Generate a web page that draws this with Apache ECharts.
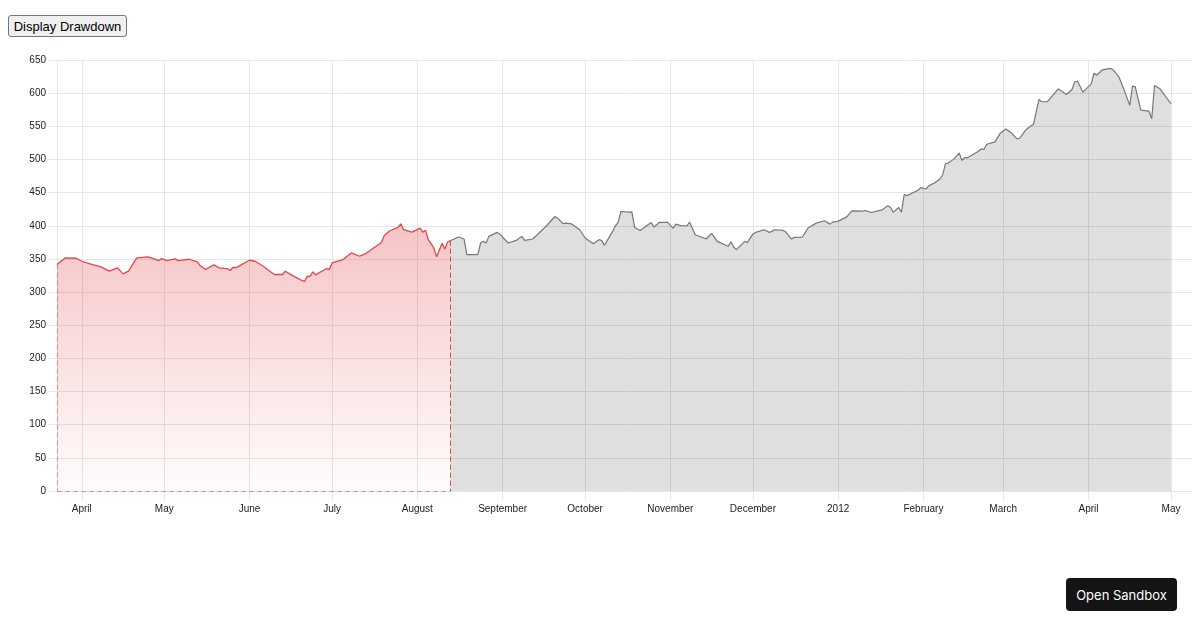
<!DOCTYPE html>
<html>
<head>
<meta charset="utf-8">
<script src="https://cdn.jsdelivr.net/npm/echarts@6/dist/echarts.min.js"></script>
<style>
  html, body { margin: 0; padding: 0; background: #fff; }
  #chart { position: absolute; left: 0; top: 0; width: 1200px; height: 630px; }
  #drawdown-btn {
    position: absolute; left: 8px; top: 15px; width: 119px; height: 22px;
    box-sizing: border-box; padding: 0 2px; white-space: nowrap;
    font: 13px 'Liberation Sans', Arial, sans-serif; color: #000;
    background: #efefef; border: 1px solid #767676; border-radius: 3px;
  }
  #sandbox-btn {
    position: absolute; left: 1066px; top: 578px; width: 111px; height: 33px;
    box-sizing: border-box; padding: 0; white-space: nowrap;
    font: 13px Inter, 'Noto Sans', sans-serif; color: #fff;
    background: #141414; border: none; border-radius: 4px;
  }
</style>
</head>
<body>
<div id="chart"></div>
<button id="drawdown-btn">Display Drawdown</button>
<button id="sandbox-btn">Open Sandbox</button>
<script>
// price series
const dates = [
  '2011-03-23','2011-03-26','2011-03-30','2011-04-01','2011-04-04','2011-04-08','2011-04-11','2011-04-14',
  '2011-04-16','2011-04-18','2011-04-21','2011-04-25','2011-04-27','2011-04-29','2011-04-30','2011-05-02',
  '2011-05-05','2011-05-06','2011-05-10','2011-05-13','2011-05-14','2011-05-16','2011-05-19','2011-05-21',
  '2011-05-24','2011-05-25','2011-05-26','2011-05-27','2011-06-01','2011-06-03','2011-06-06','2011-06-08',
  '2011-06-10','2011-06-13','2011-06-14','2011-06-17','2011-06-20','2011-06-21','2011-06-22','2011-06-23',
  '2011-06-24','2011-06-25','2011-06-29','2011-06-30','2011-07-01','2011-07-05','2011-07-08','2011-07-11',
  '2011-07-13','2011-07-17','2011-07-19','2011-07-20','2011-07-22','2011-07-25','2011-07-26','2011-07-27',
  '2011-07-30','2011-08-02','2011-08-03','2011-08-04','2011-08-05','2011-08-07','2011-08-08','2011-08-10',
  '2011-08-11','2011-08-12','2011-08-13',
  '2011-08-16','2011-08-18','2011-08-19','2011-08-23','2011-08-24','2011-08-25','2011-08-26','2011-08-27',
  '2011-08-30','2011-08-31','2011-09-03','2011-09-06','2011-09-08','2011-09-09','2011-09-12','2011-09-17',
  '2011-09-20','2011-09-21','2011-09-23','2011-09-24','2011-09-26','2011-09-29','2011-10-01','2011-10-04',
  '2011-10-06','2011-10-07','2011-10-08','2011-10-11','2011-10-12','2011-10-13','2011-10-14','2011-10-17',
  '2011-10-18','2011-10-19','2011-10-21','2011-10-25','2011-10-26','2011-10-28','2011-10-31','2011-11-02',
  '2011-11-03','2011-11-05','2011-11-07','2011-11-08','2011-11-10','2011-11-14','2011-11-16','2011-11-18',
  '2011-11-22','2011-11-23','2011-11-24','2011-11-25','2011-11-28','2011-11-29','2011-12-01','2011-12-02',
  '2011-12-05','2011-12-07','2011-12-09','2011-12-12','2011-12-13','2011-12-15','2011-12-16','2011-12-19',
  '2011-12-21','2011-12-22','2011-12-24','2011-12-27','2011-12-29','2011-12-30','2012-01-01','2012-01-04',
  '2012-01-06','2012-01-10','2012-01-11','2012-01-13','2012-01-17','2012-01-19','2012-01-20','2012-01-21',
  '2012-01-23','2012-01-24','2012-01-25','2012-01-26','2012-01-30','2012-01-31','2012-02-02','2012-02-03',
  '2012-02-05','2012-02-07','2012-02-08','2012-02-09','2012-02-10','2012-02-12','2012-02-14','2012-02-15',
  '2012-02-16','2012-02-17','2012-02-21','2012-02-22','2012-02-23','2012-02-24','2012-02-27','2012-02-29',
  '2012-03-02','2012-03-04','2012-03-06','2012-03-07','2012-03-09','2012-03-10','2012-03-12','2012-03-14',
  '2012-03-15','2012-03-17','2012-03-21','2012-03-24','2012-03-26','2012-03-27','2012-03-28','2012-03-30',
  '2012-04-02','2012-04-03','2012-04-04','2012-04-06','2012-04-09','2012-04-10','2012-04-12','2012-04-14',
  '2012-04-16','2012-04-17','2012-04-18','2012-04-20','2012-04-23','2012-04-24','2012-04-25','2012-04-27',
  '2012-05-01'
]
const prices = [
  341.5, 351.5, 351, 346.5, 342.5, 338, 331.5, 336.5,
  327.5, 331.5, 351.5, 353, 350.5, 347.5, 350.5, 347.5,
  350, 347.5, 349.5, 345.5, 340, 334, 341, 336.5,
  335, 332.5, 337.5, 336.5, 348, 346.5, 339, 332.5,
  326.5, 326.5, 331.5, 324, 317.5, 316, 324, 323.5,
  330.5, 326, 335.5, 334, 344, 349, 359, 354,
  357.5, 369, 375, 385.5, 392.5, 397.5, 403, 394,
  390.5, 396.5, 390.5, 393, 379, 366.5, 353, 373.5,
  365, 375.5, 377.5,
  383, 380, 356.5, 356.5, 374, 376.5, 374, 384,
  390, 387.5, 374, 378, 384, 378, 380, 400,
  414, 411.5, 403, 404, 403, 394, 381.5, 373,
  379, 378, 370.5, 391.5, 400, 405, 421.5, 420.5,
  421, 397.5, 393, 405, 398, 405, 405, 396.5,
  402.5, 400, 400, 405.5, 386.5, 380, 388.5, 376.5,
  369, 376, 368, 364, 376.5, 375, 387.5, 390,
  394, 390, 394, 393, 390.5, 380, 382.5, 383,
  396.5, 399, 404, 407.5, 402.5, 405.5, 407, 413,
  422.5, 422, 423, 420, 424, 430, 428, 420.5,
  427.5, 420.5, 447, 445.5, 453.5, 457.5, 455.5, 460.5,
  464.5, 470.5, 477, 493.5, 494.5, 500.5, 510, 498.5,
  503, 502.5, 512.5, 516, 515, 523, 526.5, 540,
  546, 540, 531, 532, 543.5, 547.5, 553, 590.5,
  587, 587, 606.5, 598, 605.5, 617, 618, 601.5,
  614, 630, 627, 635, 637.5, 635, 625, 604.5,
  581.5, 610.5, 609.5, 574.5, 573, 561.5, 611.5, 606.5,
  584
]
const drawdownEnd = '2011-08-13'
const yTicks = [0, 650, 50] // min, max, step
const monthNames = ['January','February','March','April','May','June','July','August','September','October','November','December']

function toTs(s) {
  const p = s.split('-').map(Number)
  return new Date(p[0], p[1] - 1, p[2]).getTime()
}

const points = dates.map((d, i) => [toTs(d), prices[i]])
const endTs = toTs(drawdownEnd)
const redPts = points.filter(p => p[0] <= endTs)
const greyPts = points.filter(p => p[0] >= endTs)
const first = redPts[0]
const last = redPts[redPts.length - 1]

const gridColor = '#e6e6e6'
const red = '#e0464b'

const chart = echarts.init(document.getElementById('chart'))
chart.setOption({
  animation: false,
  grid: [
    { left: 57, right: 29, top: 60, bottom: 139 },
    { left: 57, right: 8, top: 60, bottom: 139 },
  ],
  xAxis: [
    {
      type: 'time',
      gridIndex: 0,
      min: points[0][0],
      max: points[points.length - 1][0],
      minInterval: 28 * 86400000,
      maxInterval: 31 * 86400000,
      axisLine: { show: false },
      axisTick: { show: true, length: 9, lineStyle: { color: gridColor } },
      splitLine: { show: true, lineStyle: { color: gridColor, width: 1 } },
      axisLabel: {
        margin: 13,
        fontSize: 10,
        color: '#222',
        fontFamily: 'Liberation Sans, Arial, sans-serif',
        formatter: (value) => {
          const d = new Date(value)
          if (d.getDate() !== 1) return ''
          return d.getMonth() === 0 ? String(d.getFullYear()) : monthNames[d.getMonth()]
        },
      },
    },
    { type: 'value', gridIndex: 1, show: false, min: 0, max: 1 },
  ],
  yAxis: [
    { type: 'value', gridIndex: 0, min: yTicks[0], max: yTicks[1], interval: yTicks[2], show: false },
    {
      type: 'value',
      gridIndex: 1,
      min: yTicks[0],
      max: yTicks[1],
      interval: yTicks[2],
      axisLine: { show: true, lineStyle: { color: gridColor } },
      axisTick: { show: true, length: 8, lineStyle: { color: gridColor } },
      splitLine: { show: true, lineStyle: { color: gridColor } },
      axisLabel: {
        margin: 11,
        fontSize: 10,
        color: '#222',
        fontFamily: 'Liberation Sans, Arial, sans-serif',
      },
    },
  ],
  series: [
    {
      type: 'line',
      xAxisIndex: 0,
      yAxisIndex: 0,
      data: greyPts,
      showSymbol: false,
      lineStyle: { color: '#777', width: 1.2 },
      areaStyle: { color: 'rgba(0,0,0,0.125)', opacity: 1 },
      z: 2,
    },
    {
      type: 'line',
      xAxisIndex: 0,
      yAxisIndex: 0,
      data: redPts,
      showSymbol: false,
      lineStyle: { color: red, width: 1.3 },
      areaStyle: {
        opacity: 1,
        color: new echarts.graphic.LinearGradient(0, 0, 0, 1, [
          { offset: 0, color: 'rgba(224,60,64,0.3)' },
          { offset: 1, color: 'rgba(224,60,64,0.01)' },
        ]),
      },
      markLine: {
        silent: true,
        symbol: ['none', 'none'],
        label: { show: false },
        lineStyle: { type: [5, 3], width: 1, color: 'rgba(224,70,75,0.55)' },
        data: [
          [{ coord: [first[0], first[1]] }, { coord: [first[0], 0] }],
          [{ coord: [first[0], 0] }, { coord: [last[0], 0] }],
          [{ coord: [last[0], last[1]], lineStyle: { color: red, type: [5, 3], width: 1 } }, { coord: [last[0], 0] }],
        ],
      },
      z: 3,
    },
  ],
})
</script>
</body>
</html>
